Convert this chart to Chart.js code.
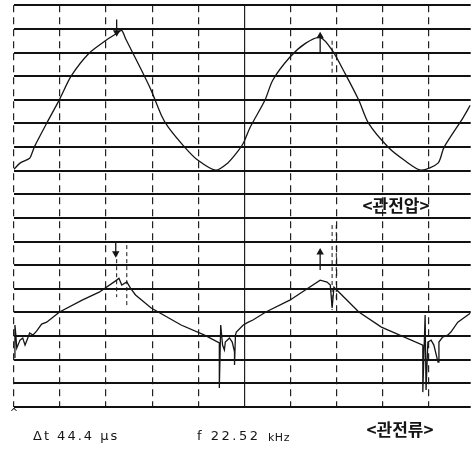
<!DOCTYPE html>
<html>
<head>
<meta charset="utf-8">
<script src="https://cdn.jsdelivr.net/npm/chart.js@4/dist/chart.umd.min.js"></script>
<style>
  html, body { margin: 0; padding: 0; background: #fff; }
  #wrap { width: 476px; height: 450px; }
</style>
</head>
<body>
<div id="wrap"><canvas id="scope"></canvas></div>
<script>
// time in microseconds (10 us / div), level in divisions from the bottom line
var voltageTime = [0, 1.3, 3.4, 3.9, 4.5, 7.1, 9.9, 12.4, 16.3, 20.0, 22.3, 23.4, 24.3, 27.7, 29.8, 32.0, 33.5, 37.1, 39.9, 43.8,
    46.4, 48.3, 49.8, 51.3, 54.5, 56.2, 59.9, 63.3, 66.5, 69.1, 71.9, 74.9, 77.0, 81.3, 84.8, 88.4, 92.1, 93.4, 97.6, 99.1];
var voltageLevel = [10.06, 10.32, 10.53, 10.74, 11.04, 12.01, 13.02, 14.0, 14.97, 15.52, 15.81, 15.94, 15.56, 14.25, 13.4, 12.35, 11.84, 10.99, 10.45, 10.02,
    10.32, 10.74, 11.16, 11.84, 12.98, 13.83, 14.8, 15.39, 15.64, 15.1, 14.12, 12.98, 12.01, 10.99, 10.44, 10.02, 10.32, 10.99, 12.26, 12.77];

var currentTime = [0.2, 0.2, 0.4, 0.6, 1.3, 1.9, 2.4, 3.0, 3.4, 4.1, 4.9, 6.0, 7.1, 7.7, 9.9, 14.8, 18.5, 22.3, 22.8, 23.4, 24.5, 25.3, 26.4, 29.8, 36.3, 41.4,
    44.6, 44.6, 44.9, 45.3, 45.7, 45.9, 46.8, 47.4, 47.9, 47.9, 48.1, 48.3, 49.8, 50.9, 51.9, 54.7, 59.9, 66.5, 68.0, 68.7, 69.1, 69.5, 70.6, 74.9, 79.8, 88.8,
    88.8, 89.3, 89.5, 89.9, 90.6, 91.2, 92.1, 92.3, 93.1, 94.2, 94.9, 96.4, 97.6, 99.1];
var currentLevel = [2.07, 3.47, 3.04, 2.49, 2.83, 2.92, 2.62, 2.92, 3.13, 3.04, 3.21, 3.51, 3.59, 3.68, 4.02, 4.52, 4.86, 5.37, 5.45, 5.16, 5.29, 5.03, 4.74, 4.19, 3.47, 3.04,
    2.71, 0.80, 3.47, 2.62, 2.41, 2.75, 2.92, 2.75, 2.33, 1.78, 3.04, 3.17, 3.47, 3.59, 3.68, 4.02, 4.52, 5.37, 5.29, 5.16, 4.19, 5.07, 4.86, 4.02, 3.38, 2.62,
    0.63, 3.89, 0.72, 2.75, 2.83, 2.62, 1.90, 2.75, 2.96, 3.04, 3.17, 3.59, 3.76, 3.97];

// cursor lines and peak arrows
var cursorTime = [22.3, 24.5, 69.1, 70.0, 69.1];
var cursorHigh = [6.55, 6.85, 7.7, 7.7, 15.5];
var cursorLow = [4.65, 4.19, 4.1, 4.5, 14.0];
var arrowTime = [22.3, 66.5, 22.1, 66.5];
var arrowTail = [16.4, 15.0, 7.0, 5.8];
var arrowHead = [15.85, 15.7, 6.5, 6.55];

var voltageLabel = '<관전압>';
var currentLabel = '<관전류>';
var deltaText = 'Δt 44.4 μs';
var freqText = 'f 22.52';
var freqUnit = 'kHz';

var ink = '#151515';

function pairs(xs, ys) {
    return xs.map(function(x, i) { return { x: x, y: ys[i] }; });
}

var datasets = [
    { data: pairs(voltageTime, voltageLevel), borderColor: ink, borderWidth: 1.3, pointRadius: 0, tension: 0.25 },
    { data: pairs(currentTime, currentLevel), borderColor: ink, borderWidth: 1.3, pointRadius: 0, tension: 0 }
];
cursorTime.forEach(function(t, i) {
    datasets.push({
        data: [{ x: t, y: cursorHigh[i] }, { x: t, y: cursorLow[i] }],
        borderColor: ink, borderWidth: 1, borderDash: [4, 3], pointRadius: 0
    });
});
arrowTime.forEach(function(t, i) {
    var down = arrowHead[i] < arrowTail[i];
    datasets.push({
        data: [{ x: t, y: arrowTail[i] }, { x: t, y: arrowHead[i] }],
        borderColor: ink, borderWidth: 1.3, pointRadius: [0, 3],
        pointStyle: 'triangle', rotation: down ? 180 : 0,
        pointBackgroundColor: ink, pointBorderColor: ink
    });
});

var labelsPlugin = {
    id: 'scopeText',
    afterDraw: function(chart) {
        var ctx = chart.ctx;
        ctx.save();
        ctx.fillStyle = ink;
        ctx.textBaseline = 'middle';
        ctx.textAlign = 'center';
        ctx.font = 'bold 17px "Noto Sans CJK KR"';
        ctx.fillText(voltageLabel, 396, 206);
        ctx.fillText(currentLabel, 400, 430);
        ctx.textAlign = 'left';
        ctx.font = '13px "DejaVu Sans"';
        ctx.letterSpacing = '2px';
        ctx.fillText(deltaText, 33, 437);
        ctx.letterSpacing = '2.5px';
        ctx.fillText(freqText, 197, 437);
        ctx.letterSpacing = '0.5px';
        ctx.font = '11px "DejaVu Sans"';
        ctx.fillText(freqUnit, 268, 438);
        ctx.letterSpacing = '0px';
        ctx.font = '10px "DejaVu Sans"';
        ctx.textAlign = 'center';
        ctx.fillText('^', 14, 413);
        ctx.restore();
    }
};

new Chart(document.getElementById('scope').getContext('2d'), {
    type: 'line',
    data: { datasets: datasets },
    options: {
        responsive: true,
        maintainAspectRatio: false,
        animation: false,
        layout: { padding: { left: 14, top: 5, right: 0, bottom: 43 } },
        plugins: { legend: { display: false }, tooltip: { enabled: false } },
        scales: {
            x: {
                type: 'linear', min: 0, max: 99.2,
                ticks: { display: false, stepSize: 10, includeBounds: false },
                grid: { color: '#222', lineWidth: 1.2, drawTicks: false },
                border: {
                    display: false,
                    dash: function(c) { return c.tick && c.tick.value === 50 ? [] : [7, 5]; }
                }
            },
            y: {
                type: 'linear', min: 0, max: 17,
                ticks: { display: false, stepSize: 1 },
                grid: { color: '#111', lineWidth: 2, drawTicks: false },
                border: { display: false }
            }
        }
    },
    plugins: [labelsPlugin]
});
</script>
</body>
</html>
